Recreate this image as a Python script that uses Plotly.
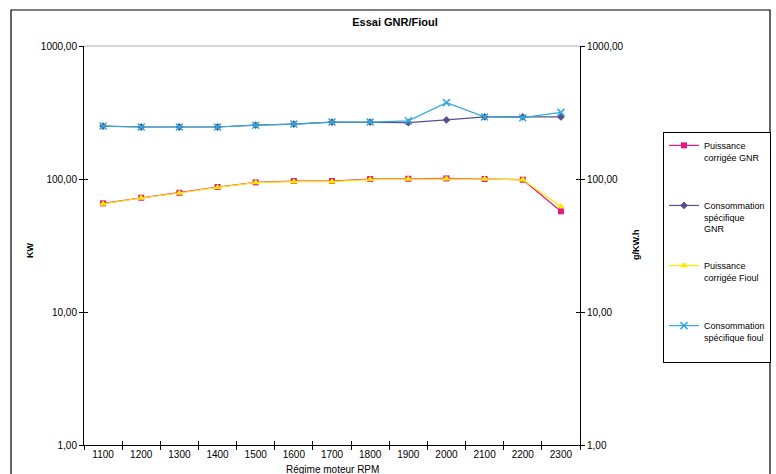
import plotly.graph_objects as go

rpm = ["1100", "1200", "1300", "1400", "1500", "1600", "1700", "1800", "1900", "2000", "2100", "2200", "2300"]
puissance_gnr = [65.6, 72.3, 78.8, 87.1, 94.4, 96.6, 96.6, 100.0, 100.4, 101.0, 100.0, 98.8, 57.2]
conso_gnr = [250, 246, 246, 246, 254, 259, 268, 268, 265, 278, 293, 293, 293]
puissance_fioul = [65.0, 72.0, 78.5, 86.5, 94.0, 95.5, 95.5, 99.0, 100.0, 100.5, 100.0, 98.5, 62.0]
conso_fioul = [250, 246, 246, 246, 254, 259, 268, 268, 274, 375, 293, 289, 317]

tick_vals = [1, 10, 100, 1000]
tick_text = ["1,00", "10,00", "100,00", "1000,00"]

FONT = "Liberation Sans, Arial, sans-serif"

L, R, T, B = 84, 580, 46, 445
W, H = 776, 474
PW, PH = R - L, B - T


def px(x):
    return (x - L) / PW


def py(y):
    return (B - y) / PH


fig = go.Figure()
fig.add_trace(go.Scatter(x=rpm, y=puissance_gnr, name="Puissance<br>corrigée GNR<br> ",
                         mode="lines+markers", legendgroup="a",
                         line=dict(color="#E4197D", width=1.2),
                         marker=dict(symbol="square", size=6, color="#E4197D")))
fig.add_trace(go.Scatter(x=rpm, y=conso_gnr, name="Consommation<br>spécifique<br>GNR",
                         mode="lines+markers", legendgroup="b", yaxis="y2",
                         line=dict(color="#54548A", width=1.2),
                         marker=dict(symbol="diamond", size=6, color="#54548A")))
fig.add_trace(go.Scatter(x=rpm, y=puissance_fioul, name="Puissance<br>corrigée Fioul<br> ",
                         mode="lines+markers", legendgroup="c",
                         line=dict(color="#FFE800", width=1.2),
                         marker=dict(symbol="triangle-up", size=7, color="#FFE800")))
fig.add_trace(go.Scatter(x=rpm, y=conso_fioul, name="Consommation<br>spécifique fioul<br> ",
                         mode="lines+markers", legendgroup="d", yaxis="y2",
                         line=dict(color="#35A9DE", width=1.2),
                         marker=dict(symbol="x-thin-open", size=7, color="#35A9DE",
                                     line=dict(color="#35A9DE", width=1.5))))

yrange = [0, 3]
xrange_ = [-0.5, 12.5]
common_y = dict(type="log", range=yrange, tickvals=tick_vals, automargin=False,
                tickcolor="black", ticklen=4, showgrid=False, zeroline=False)
fig.update_layout(
    width=W, height=H,
    margin=dict(l=L, r=W - R, t=T, b=H - B, autoexpand=False),
    paper_bgcolor="white", plot_bgcolor="white",
    font=dict(family=FONT, size=10, color="black"),
    title=dict(text="<b>Essai GNR/Fioul</b>", x=395 / W, xanchor="center",
               y=1 - 22 / H, yanchor="middle", font=dict(size=11)),
    xaxis=dict(type="category", range=xrange_, tickson="boundaries",
               ticks="outside", ticklen=4, tickcolor="black", automargin=False,
               showline=True, linecolor="black", linewidth=1, showgrid=False),
    xaxis2=dict(type="category", range=xrange_, tickson="boundaries", overlaying="x",
                side="bottom", ticks="inside", ticklen=4, tickcolor="black",
                showticklabels=False, showline=False, showgrid=False, automargin=False,
                categoryarray=rpm, categoryorder="array"),
    yaxis=dict(**common_y, ticktext=tick_text, ticks="outside",
               showline=True, linecolor="black", linewidth=1),
    yaxis2=dict(**common_y, ticktext=tick_text, overlaying="y", side="right",
                ticks="outside", showline=True, linecolor="black", linewidth=1),
    yaxis3=dict(**common_y, overlaying="y", side="left", ticks="inside",
                showticklabels=False, showline=False),
    yaxis4=dict(**common_y, overlaying="y", side="right", ticks="inside",
                showticklabels=False, showline=False),
    legend=dict(x=px(663), xanchor="left", y=py(132), yanchor="top",
                bordercolor="black", borderwidth=1, bgcolor="white",
                font=dict(size=9), valign="top", tracegroupgap=22,
                itemwidth=30),
    showlegend=True,
)

# invisible helper traces that carry the inner (cross) tick marks
fig.add_trace(go.Scatter(x=rpm, y=[None] * len(rpm), xaxis="x2", yaxis="y3",
                         showlegend=False, hoverinfo="skip"))
fig.add_trace(go.Scatter(x=rpm, y=[None] * len(rpm), xaxis="x2", yaxis="y4",
                         showlegend=False, hoverinfo="skip"))

# axis titles
fig.add_annotation(text="<b>KW</b>", xref="paper", yref="paper", x=px(30), y=py(250),
                   textangle=-90, showarrow=False, font=dict(size=9),
                   xanchor="center", yanchor="middle")
fig.add_annotation(text="<b>g/KW.h</b>", xref="paper", yref="paper", x=px(636), y=py(245),
                   textangle=-90, showarrow=False, font=dict(size=9),
                   xanchor="center", yanchor="middle")
fig.add_annotation(text="Régime moteur RPM", xref="paper", yref="paper", x=px(332), y=py(469),
                   showarrow=False, font=dict(size=10),
                   xanchor="center", yanchor="middle")

# outer chart border and top plot-area edge
fig.add_shape(type="rect", xref="paper", yref="paper",
              x0=px(11), x1=px(770), y0=py(480), y1=py(10),
              line=dict(color="black", width=1.2), fillcolor="rgba(0,0,0,0)")
fig.add_shape(type="line", xref="paper", yref="paper", x0=0, x1=1, y0=1, y1=1,
              line=dict(color="#b0b0b0", width=1))

fig.write_html("out.html", config={"displayModeBar": False},
               post_script="document.body.style.margin='0';document.body.style.overflow='hidden';")
